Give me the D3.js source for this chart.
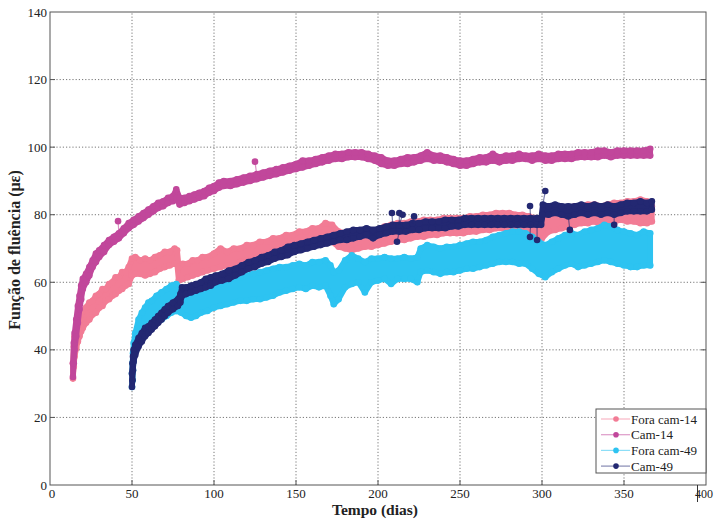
<!DOCTYPE html>
<html>
<head>
<meta charset="utf-8">
<script src="https://cdn.jsdelivr.net/npm/d3@7"></script>
<style>
  body { margin: 0; background: #fff; }
  svg { display: block; }
</style>
</head>
<body>
<svg id="chart" width="715" height="519" font-family="'Liberation Serif', 'DejaVu Serif', serif"></svg>
<script>
// Axis ticks
const xTicks = [0, 50, 100, 150, 200, 250, 300, 350, 400];
const yTicks = [0, 20, 40, 60, 80, 100, 120, 140];

// Each reading row: [dia, mínimo do dia, máximo do dia] in microstrain
const foraCam14 = [
  [14,31.5,36],[14.5,35,41],[15,38,44],[16,40.5,46.5],[17,42.5,48.5],[18,44,49.5],[19,45.5,50.5],
  [20,46.5,51.5],[22,48,52.5],[24,49,54],[26,50.5,54.5],[28,51,56],[30,52.5,56.5],[32,53,58],
  [34,54.5,58],[36,55,59.5],[38,56,60],[40,56.5,61.5],[42,57.5,61.5],[44,58,63],[46,59,63],
  [48,59.5,64.5],[50,62,67],[52,62.5,67.5],[55,62.5,66.5],[58,62,67],[61,62.5,66.5],[64,63,67.5],
  [67,64,68],[70,64.5,69],[73,65,69],[76,65.5,70],[77.5,65.5,69.5],[78.5,60.5,64.5],[81,61,65.5],
  [84,61.5,65.5],[87,62,66.5],[90,62.5,66.5],[93,63,67.5],[96,63.5,67.5],[100,64,68.5],[104,64.5,70],
  [108,65,69],[112,65.5,70],[116,66,70],[120,66.5,71],[124,67,71],[128,67.5,72],[132,68,72],
  [136,68.5,73],[140,69,73],[144,69.5,74],[148,70,74],[152,70.5,75],[156,71,75],[160,71.5,76],
  [164,72,76],[168,72.5,77.5],[172,72,77],[176,70.5,75],[180,70,74.5],[184,69.5,74],[188,70,74.5],
  [192,70.5,75],[196,70.5,75],[200,71,75.5],[204,71.5,76.5],[208,72,77],[212,72.5,77.5],[216,72.5,77.5],
  [220,73,78],[224,73.5,78],[228,73.5,78.5],[232,74,78.5],[236,74,78.5],[240,74.5,79],[244,74.5,79],
  [248,74.5,79],[252,74.5,79],[256,75,79.5],[260,75,79.5],[264,75.5,80],[268,75.5,80],[272,76,80.5],
  [276,76,80.5],[280,76,80.5],[284,75.5,80],[288,75,80],[292,74.5,79.5],[296,73.5,79],[300,73,78.5],
  [304,75,80.5],[308,75.5,81.5],[312,76,82],[316,76.5,82],[320,77,82.5],[324,77.5,82.5],[328,77.5,83],
  [332,78,83],[336,77,82.5],[340,77.5,83],[344,78,83.5],[348,78.5,83.5],[352,78,84],[356,78,84],
  [360,77.5,84.5],[364,77.5,84],[367,78,82.5]
];

const cam14 = [
  [14,32,36],[14.5,36,42],[15,40,45],[16,44,49],[17,48,53],[18,52,56],[19,55,59],[20,58,61],
  [22,60,62.5],[24,62,64.5],[26,64.5,66.5],[28,66,68.5],[30,67.5,69.5],[33,69,71],[36,71,72.5],
  [39,72,73.5],[42,73,74.5],[45,74.5,76],[48,76,77.5],[51,77,78.5],[54,78,79.5],[57,79,80.5],
  [60,80,81.5],[63,81,82.5],[66,82,83.5],[69,82.5,84],[72,83.5,85],[75,84,85.5],[77,85,87.5],
  [79,83,85],[82,83.5,85],[85,84,85.5],[88,84.5,86],[91,85,86.5],[94,85.5,87],[97,86.5,88],
  [100,87,88.5],[103,88,89.5],[106,88.5,90],[110,88.5,90],[114,89,90.5],[118,89.5,91],[122,90,91.5],
  [126,90.5,92],[130,91,92.5],[134,91.5,93],[138,92,93.5],[142,92.5,94],[146,93,94.5],[150,93.5,95],
  [154,94,96],[158,94.5,96],[162,95,96.5],[166,95.5,97],[170,96,97.5],[174,96.5,98],[178,96.5,98],
  [182,97,98.5],[186,97,98.5],[190,97,98.5],[194,96.5,98],[198,96,97.5],[202,95,97],[206,94.5,96],
  [210,94.5,96],[214,95,96.5],[218,95,97],[222,95.5,97],[226,96,97.5],[230,96.5,98.5],[234,96,97.5],
  [238,96,97.5],[242,95.5,97],[246,95,96.5],[250,94.5,96],[254,94.5,96],[258,95,96.5],[262,95.5,97],
  [266,95.5,97],[270,96,98],[274,95.5,97],[278,96,97.5],[282,96,97.5],[286,96.5,98],[290,96.5,97.5],
  [294,96,97.5],[298,96.5,98],[302,96,97.5],[306,96,97.5],[310,96.5,98],[314,96.5,98],[318,96.5,98],
  [322,97,98.5],[326,97,98.5],[330,97,98.5],[334,97,99],[338,97.5,99],[342,97,98.5],[346,97.5,99],
  [350,97.5,99],[354,97.5,99],[358,97.5,99],[362,97.5,99],[366,97.5,99.5]
];

const foraCam49 = [
  [50,29,33],[50.3,31,36],[50.6,34,39],[51,37,42],[52,39.5,45],[54,42,49],[56,44,51],[58,45.5,52.5],
  [60,46.5,54],[62,47,54.5],[65,48,56],[68,49,57],[71,50,58],[74,51,59],[77,51.5,59.5],[80,51,58],
  [83,50,57.5],[86,49.5,57.5],[89,50,57.5],[92,51,58],[96,51.5,58.5],[100,52.5,59],[104,53,59.5],
  [108,53.5,60.5],[112,54,61.5],[116,54.5,61.5],[120,54.5,62],[124,55,62.5],[128,55,63],[132,55.5,63.5],
  [136,56,64],[140,57,64.5],[144,57.5,64.5],[148,58,65],[152,58.5,65.5],[156,58,65],[160,59,66],
  [164,58.5,66],[168,59,66.5],[171,56,65],[173,53.5,63],[176,55,63.5],[180,58.5,66.5],[184,59.5,68],
  [188,60,67],[192,57,66],[196,60,67],[200,60.5,67],[204,61,67.5],[208,59.5,67],[212,61,67],
  [216,61,67.5],[220,61,67],[224,60,67.5],[226,63,70],[230,63.5,71],[234,63,70.5],[238,62.5,70],
  [242,63,70.5],[246,63,70.5],[250,63.5,71],[254,64,71.5],[258,64,72],[262,64.5,72],[266,65,72.5],
  [270,65.5,73.5],[274,66,74],[278,66,74.5],[282,66,75],[286,65.5,75],[290,65.5,74.5],[294,64,73.5],
  [298,62.5,72],[302,61.5,71],[306,63,72],[310,64,73],[314,65,74],[318,65.5,74.5],[322,64.5,74],
  [326,65,75],[330,65.5,75.5],[334,66,76],[338,66.5,77],[342,66,76.5],[346,65.5,75.5],[350,65,75],
  [354,64.5,74.5],[358,64.5,74],[362,65,75],[366,65,74.5]
];

const cam49 = [
  [50,29,33],[50.3,31,36],[50.6,34,38],[51,36.5,40],[52,38.5,41.5],[54,41,43.5],[56,42.5,45],
  [58,44,46.5],[60,45,47],[62,46,48],[64,47,49],[66,48,50],[68,49,51],[70,50,52],[72,51,53],
  [75,52,54],[78,53,55],[79.5,54,56.5],[80.5,56,58.5],[83,56.5,58.5],[86,57,59],[89,57.5,59.5],
  [92,58,60],[95,58.5,61],[98,59,61.5],[101,60,62],[105,60.5,62.5],[109,61,63.5],[113,62,64],
  [117,63,65],[121,64,66],[125,64.5,66.5],[129,65.5,67.5],[133,66,68],[137,67,69],[141,67.5,69.5],
  [145,68,70.5],[149,69,71],[153,69.5,71.5],[157,70,72],[161,70.5,72.5],[165,71,73],[169,71.5,73.5],
  [173,72,74],[177,72.5,74.5],[181,72.5,75],[185,73,75.5],[189,73.5,75.5],[193,74,76],[197,73,75.5],
  [201,74,76],[205,74.5,76.5],[209,75,77],[213,75,77],[217,75,77],[221,75.5,77.5],[225,75.5,77.5],
  [229,76,78],[233,76,78],[237,76,78],[241,76,78.5],[245,76.5,78.5],[249,76.5,78.5],[253,77,79],
  [257,77,79],[261,77,79],[265,77,79],[269,77,79],[273,77,79],[277,77,79],[281,77,79],[285,77,79],
  [289,77,79],[293,77,79],[297,77,79],[299.5,77,79],[300.5,80,83],[304,80,82.5],[308,80.5,83],
  [312,80,82.5],[316,79.5,82.5],[320,80,82.5],[324,80.5,83],[328,80,82.5],[332,80.5,83],[336,80,82.5],
  [340,80.5,83],[344,80,82.5],[348,80.5,83],[352,81,83.5],[356,81,83.5],[360,81,84],[364,81,83.5],
  [367,81.5,84]
];

// Isolated readings away from the daily band: [dia, valor]
const cam14Isolados = [[41.5, 78.1], [125, 95.7]];
const cam49Isolados = [
  [208.5, 80.5], [213, 80.5], [215, 80], [222, 79.5], [211.6, 72],
  [292.7, 82.6], [302, 87], [292.7, 73.4], [297, 72.5], [317, 75.5], [344, 77]
];

const series = [
  { nome: "Fora cam-14", dados: foraCam14, isolados: [], cor: "#F27C95" },
  { nome: "Cam-14",      dados: cam14,     isolados: cam14Isolados, cor: "#C1479B" },
  { nome: "Fora cam-49", dados: foraCam49, isolados: [], cor: "#2DC3F1" },
  { nome: "Cam-49",      dados: cam49,     isolados: cam49Isolados, cor: "#232872" }
];

const svg = d3.select("#chart");
const x = d3.scaleLinear().domain([0, 400]).range([50, 706]);
const y = d3.scaleLinear().domain([0, 140]).range([485, 12]);

// Grid
const grid = svg.append("g").attr("stroke", "#555").attr("stroke-width", 0.8)
  .attr("stroke-dasharray", "1.2,2");
grid.selectAll(".gx").data(xTicks.slice(1, -1)).join("line")
  .attr("x1", d => x(d)).attr("x2", d => x(d)).attr("y1", y(0)).attr("y2", y(140));
grid.selectAll(".gy").data(yTicks.slice(1, -1)).join("line")
  .attr("x1", x(0)).attr("x2", x(400)).attr("y1", d => y(d)).attr("y2", d => y(d));

// Series: daily band (outlined so the readings merge), readings and isolated readings
const R = 3.3;
series.forEach(s => {
  const g = svg.append("g");
  const area = d3.area().x(d => x(d[0])).y0(d => y(d[1])).y1(d => y(d[2]));
  g.append("path").datum(s.dados).attr("d", area).attr("fill", s.cor)
    .attr("stroke", s.cor).attr("stroke-width", 5.6).attr("stroke-linejoin", "round");
  const leituras = s.dados.flatMap(d => [[d[0], d[1]], [d[0], d[2]]]);
  g.selectAll("circle.l").data(leituras).join("circle")
    .attr("cx", d => x(d[0])).attr("cy", d => y(d[1])).attr("r", R).attr("fill", s.cor);
  s.isolados.forEach(p => {
    const viz = d3.least(s.dados, d => Math.abs(d[0] - p[0]));
    const alvo = p[1] > viz[2] ? viz[2] : (p[1] < viz[1] ? viz[1] : p[1]);
    g.append("line").attr("x1", x(p[0])).attr("x2", x(viz[0])).attr("y1", y(p[1])).attr("y2", y(alvo))
      .attr("stroke", s.cor).attr("stroke-opacity", 0.6).attr("stroke-width", 1.2);
    g.append("circle").attr("cx", x(p[0])).attr("cy", y(p[1])).attr("r", R).attr("fill", s.cor);
  });
});

// Axes frame
const frame = svg.append("g").attr("stroke", "#555").attr("fill", "none").attr("stroke-width", 1);
frame.append("rect").attr("x", x(0)).attr("y", y(140)).attr("width", x(400) - x(0)).attr("height", y(0) - y(140));
frame.selectAll(".tx").data(xTicks.slice(1, -1)).join("line")
  .attr("x1", d => x(d)).attr("x2", d => x(d)).attr("y1", y(0)).attr("y2", y(0) - 5);
frame.selectAll(".ty").data(yTicks.slice(1, -1)).join("line")
  .attr("x1", x(0)).attr("x2", x(0) + 5).attr("y1", d => y(d)).attr("y2", d => y(d));
frame.selectAll(".ty2").data(yTicks.slice(1, -1)).join("line")
  .attr("x1", x(400)).attr("x2", x(400) - 5).attr("y1", d => y(d)).attr("y2", d => y(d));
frame.append("line").attr("x1", x(400) - 8.5).attr("x2", x(400) - 8.5).attr("y1", y(0)).attr("y2", y(0) + 17)
  .attr("stroke", "#333");

// Tick labels
svg.append("g").selectAll("text").data(xTicks).join("text")
  .attr("x", d => d === 400 ? 713 : x(d) + (d === 0 ? 2 : 0))
  .attr("y", y(0) + 13)
  .attr("text-anchor", d => d === 400 ? "end" : "middle")
  .attr("font-size", d => d === 400 ? 12 : 13).attr("fill", "#222").text(d => d);
svg.append("g").selectAll("text").data(yTicks).join("text")
  .attr("x", x(0) - 3).attr("y", d => y(d) + 4.5)
  .attr("text-anchor", "end").attr("font-size", 13).attr("fill", "#222").text(d => d);

// Axis titles
svg.append("text").attr("x", 375).attr("y", 515).attr("text-anchor", "middle")
  .attr("font-size", 15.5).attr("font-weight", "bold").attr("fill", "#222").text("Tempo (dias)");
svg.append("text").attr("transform", "translate(20,250) rotate(-90)").attr("text-anchor", "middle")
  .attr("font-size", 16).attr("font-weight", "bold").attr("fill", "#222").text("Função de fluência (με)");

// Legend
const lg = svg.append("g");
lg.append("rect").attr("x", 596).attr("y", 409).attr("width", 110).attr("height", 64)
  .attr("fill", "#fff").attr("stroke", "#555");
series.forEach((s, i) => {
  const yy = 419 + i * 15.7;
  lg.append("line").attr("x1", 601).attr("x2", 630).attr("y1", yy).attr("y2", yy)
    .attr("stroke", s.cor).attr("stroke-opacity", 0.55).attr("stroke-width", 1.2);
  lg.append("circle").attr("cx", 616).attr("cy", yy).attr("r", 2.8).attr("fill", s.cor);
  lg.append("text").attr("x", 631).attr("y", yy + 4.5).attr("font-size", 13).attr("fill", "#222").text(s.nome);
});
</script>
</body>
</html>
